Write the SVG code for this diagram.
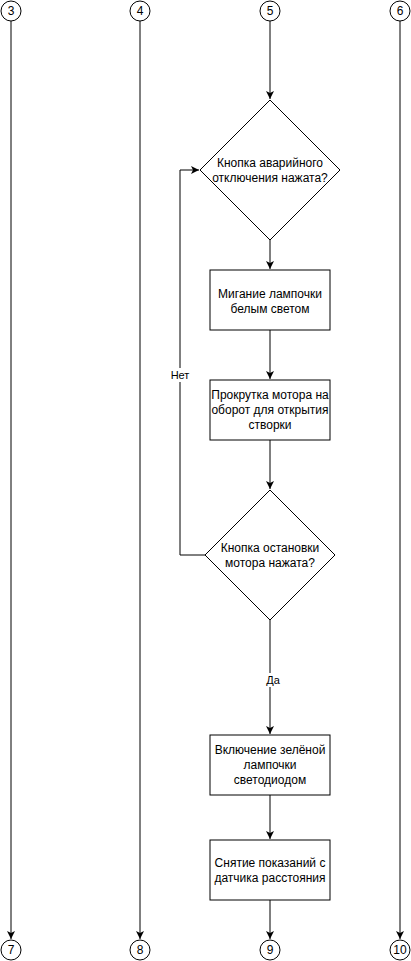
<svg xmlns="http://www.w3.org/2000/svg" width="411" height="961" viewBox="0 0 411 961">
<style>
.s{fill:#fff;stroke:#000;stroke-width:1}
.c{fill:none;stroke:#000;stroke-width:1}
text{font-family:"Liberation Sans",Arial,sans-serif;font-size:12px;fill:#000;text-anchor:middle}
.lb{font-size:11px}
</style>
<defs>
<marker id="a" markerWidth="10" markerHeight="10" refX="8" refY="4" orient="auto" markerUnits="userSpaceOnUse">
<path d="M0,0 L8,4 L0,8 L2,4 Z" fill="#000"/>
</marker>
</defs>
<rect width="411" height="961" fill="#fff"/>
<g id="connectors">
<line class="c" x1="11" y1="21" x2="11" y2="939" marker-end="url(#a)"/>
<line class="c" x1="140" y1="21" x2="140" y2="939" marker-end="url(#a)"/>
<line class="c" x1="400" y1="21" x2="400" y2="939" marker-end="url(#a)"/>
<line class="c" x1="270" y1="21" x2="270" y2="99" marker-end="url(#a)"/>
<line class="c" x1="270" y1="240" x2="270" y2="269" marker-end="url(#a)"/>
<line class="c" x1="270" y1="330" x2="270" y2="379" marker-end="url(#a)"/>
<line class="c" x1="270" y1="440" x2="270" y2="489" marker-end="url(#a)"/>
<polyline class="c" points="205,555 180,555 180,170 199,170" marker-end="url(#a)"/>
<line class="c" x1="270" y1="620" x2="270" y2="734" marker-end="url(#a)"/>
<line class="c" x1="270" y1="795" x2="270" y2="839" marker-end="url(#a)"/>
<line class="c" x1="270" y1="900" x2="270" y2="939" marker-end="url(#a)"/>
<rect x="168" y="368" width="25" height="14" fill="#fff"/>
<text class="lb" x="180" y="379">Нет</text>
<rect x="265" y="673" width="16" height="14" fill="#fff"/>
<text class="lb" x="273" y="684">Да</text>
</g>
<g id="c3"><circle class="s" cx="11" cy="11" r="10"/><text x="11" y="15">3</text></g>
<g id="c4"><circle class="s" cx="140" cy="11" r="10"/><text x="140" y="15">4</text></g>
<g id="c5"><circle class="s" cx="270" cy="11" r="10"/><text x="270" y="15">5</text></g>
<g id="c6"><circle class="s" cx="400" cy="11" r="10"/><text x="400" y="15">6</text></g>
<g id="c7"><circle class="s" cx="11" cy="950" r="10"/><text x="11" y="954">7</text></g>
<g id="c8"><circle class="s" cx="140" cy="950" r="10"/><text x="140" y="954">8</text></g>
<g id="c9"><circle class="s" cx="270" cy="950" r="10"/><text x="270" y="954">9</text></g>
<g id="c10"><circle class="s" cx="400" cy="950" r="10"/><text x="400" y="954">10</text></g>
<g id="d1"><polygon class="s" points="270,100 340,170 270,240 200,170"/>
<text x="270" y="167">Кнопка аварийного</text><text x="270" y="182">отключения нажата?</text></g>
<g id="r1"><rect class="s" x="210" y="270" width="120" height="60"/>
<text x="270" y="298">Мигание лампочки</text><text x="270" y="313">белым светом</text></g>
<g id="r2"><rect class="s" x="210" y="380" width="120" height="60"/>
<text x="270" y="399">Прокрутка мотора на</text><text x="270" y="414">оборот для открытия</text><text x="270" y="429">створки</text></g>
<g id="d2"><polygon class="s" points="270,490 335,555 270,620 205,555"/>
<text x="270" y="552">Кнопка остановки</text><text x="270" y="567">мотора нажата?</text></g>
<g id="r3"><rect class="s" x="210" y="735" width="120" height="60"/>
<text x="270" y="754">Включение зелёной</text><text x="270" y="769">лампочки</text><text x="270" y="784">светодиодом</text></g>
<g id="r4"><rect class="s" x="210" y="840" width="120" height="60"/>
<text x="270" y="867">Снятие показаний с</text><text x="270" y="882">датчика расстояния</text></g>
</svg>
